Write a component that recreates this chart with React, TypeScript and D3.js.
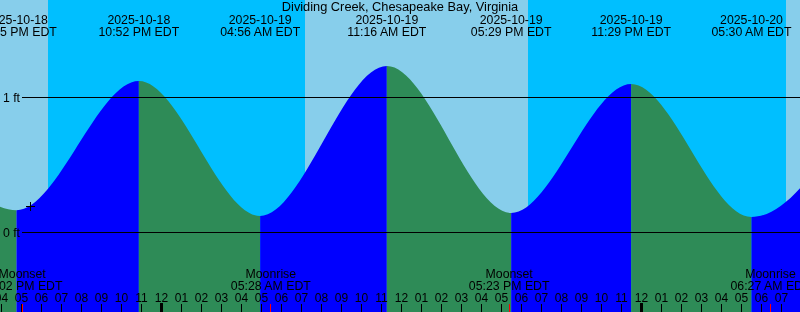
import React from "react";
import * as d3 from "d3";

const W = 800;
const H = 312;

const stationName = "Dividing Creek, Chesapeake Bay, Virginia";
const viewStart = "2025-10-18T15:55:30";
const viewEnd = "2025-10-20T07:55:30";

// Tide extremes (first and last lie just outside the visible window)
const tideTimes = [
  "2025-10-18T10:30",
  "2025-10-18T16:45",
  "2025-10-18T22:52",
  "2025-10-19T04:56",
  "2025-10-19T11:16",
  "2025-10-19T17:29",
  "2025-10-19T23:29",
  "2025-10-20T05:30",
  "2025-10-20T11:45",
];
const tideHeights = [1.2, 0.165, 1.122, 0.122, 1.233, 0.145, 1.1, 0.115, 1.2];

// Sun events
const sunTimes = ["2025-10-18T18:19", "2025-10-19T07:11", "2025-10-19T18:19", "2025-10-20T07:13"];
const sunTypes = ["set", "rise", "set", "rise"];

// Moon events
const moonTimes = ["2025-10-18T17:02", "2025-10-19T05:28", "2025-10-19T17:23", "2025-10-20T06:27"];
const moonTypes = ["Moonset", "Moonrise", "Moonset", "Moonrise"];

// Datum lines
const datumLevels = [0, 1];
const datumLabels = ["0 ft", "1 ft"];

// Current-time mark
const nowTime = "2025-10-18T17:26";
const nowHeight = 0.195;

const COLORS = {
  day: "#87CEEB",
  night: "#00BFFF",
  flood: "#0000FF",
  ebb: "#2E8B57",
  text: "#000000",
  moonTick: "#FF0000",
};

const FONT = "'Liberation Sans', Arial, Helvetica, sans-serif";

const parseM = d3.utcParse("%Y-%m-%dT%H:%M");
const parseS = d3.utcParse("%Y-%m-%dT%H:%M:%S");
const fmtDate = d3.utcFormat("%Y-%m-%d");
const fmtTime = d3.utcFormat("%I:%M %p");
const fmtHour = d3.utcFormat("%I");

export default function App() {
  const t0 = parseS(viewStart) as Date;
  const t1 = parseS(viewEnd) as Date;
  const x = d3.scaleUtc().domain([t0, t1]).range([0, W]);
  const y = d3.scaleLinear().domain([0, 1]).range([232.5, 97.5]);

  const tides = tideTimes.map((t, i) => ({ t: parseM(t) as Date, h: tideHeights[i] }));

  // Day / night background segments
  const sunDates = sunTimes.map((t) => parseM(t) as Date);
  const bounds = [t0, ...sunDates, t1];
  const bgSegs = bounds.slice(0, -1).map((b, i) => {
    let isDay: boolean;
    if (i < sunTypes.length) isDay = sunTypes[i] === "set";
    else isDay = sunTypes[sunTypes.length - 1] === "rise";
    return { x0: x(b), x1: x(bounds[i + 1]), isDay };
  });

  const area = d3
    .area<{ t: Date; h: number }>()
    .x((d) => x(d.t))
    .y0(H)
    .y1((d) => y(d.h))
    .curve(d3.curveMonotoneX);
  const areaPath = area(tides) || "";

  const tideSegs = tides.slice(0, -1).map((d, i) => ({
    x0: x(d.t),
    x1: x(tides[i + 1].t),
    rising: tides[i + 1].h > d.h,
  }));

  const hours = d3.utcHour.range(t0, t1);
  const visibleTides = tides.filter((d) => x(d.t) > -60 && x(d.t) < W + 60);
  const moons = moonTimes.map((t, i) => ({ t: parseM(t) as Date, label: moonTypes[i] }));

  const nowX = Math.floor(x(parseM(nowTime) as Date)) + 0.5;
  const nowY = Math.round(y(nowHeight)) + 0.5;

  return (
    <svg
      width={W}
      height={H}
      style={{ position: "fixed", left: 0, top: 0, display: "block" }}
      fontFamily={FONT}
    >
      <defs>
        {tideSegs.map((s, i) => (
          <clipPath id={`seg${i}`} key={i}>
            <rect x={s.x0} y={0} width={s.x1 - s.x0} height={H} />
          </clipPath>
        ))}
      </defs>

      {bgSegs.map((s, i) => (
        <rect
          key={i}
          x={s.x0}
          y={0}
          width={s.x1 - s.x0}
          height={H}
          fill={s.isDay ? COLORS.day : COLORS.night}
          shapeRendering="crispEdges"
        />
      ))}

      {tideSegs.map((s, i) => (
        <path key={i} d={areaPath} fill={s.rising ? COLORS.flood : COLORS.ebb} clipPath={`url(#seg${i})`} />
      ))}

      {datumLevels.map((lv, i) => (
        <g key={i}>
          <line x1={22} x2={W} y1={y(lv)} y2={y(lv)} stroke="#000" strokeWidth={1} shapeRendering="crispEdges" />
          <text x={20} y={y(lv) + 4} textAnchor="end" fontSize={12.3} fill={COLORS.text}>
            {datumLabels[i]}
          </text>
        </g>
      ))}

      <g stroke="#000" strokeWidth={1} shapeRendering="crispEdges">
        <line x1={nowX - 4.5} x2={nowX + 4.5} y1={nowY} y2={nowY} />
        <line x1={nowX} x2={nowX} y1={nowY - 4.5} y2={nowY + 4.5} />
      </g>

      <text x={W / 2} y={11} textAnchor="middle" fontSize={12.8} fill={COLORS.text}>
        {stationName}
      </text>

      {visibleTides.map((d, i) => (
        <g key={i} fontSize={12.3} fill={COLORS.text} textAnchor="middle">
          <text x={x(d.t)} y={24}>
            {fmtDate(d.t)}
          </text>
          <text x={x(d.t)} y={36}>
            {fmtTime(d.t) + " EDT"}
          </text>
        </g>
      ))}

      {moons.map((m, i) => (
        <g key={i} fontSize={12.3} fill={COLORS.text} textAnchor="middle">
          <text x={x(m.t)} y={278}>
            {m.label}
          </text>
          <text x={x(m.t)} y={290}>
            {fmtTime(m.t) + " EDT"}
          </text>
        </g>
      ))}

      {hours.map((h, i) => {
        const hx = Math.floor(x(h)) + 0.5;
        const midnight = h.getUTCHours() === 0;
        return (
          <g key={i}>
            <text x={hx} y={302} textAnchor="middle" fontSize={12} fill={COLORS.text}>
              {fmtHour(h)}
            </text>
            <line
              x1={hx}
              x2={hx}
              y1={midnight ? 303 : 304}
              y2={H}
              stroke="#000"
              strokeWidth={midnight ? 3 : 1}
              shapeRendering="crispEdges"
            />
          </g>
        );
      })}

      {moons.map((m, i) => {
        const mx = Math.floor(x(m.t)) + 0.5;
        return (
          <line key={i} x1={mx} x2={mx} y1={304} y2={H} stroke={COLORS.moonTick} strokeWidth={1} shapeRendering="crispEdges" />
        );
      })}
    </svg>
  );
}
